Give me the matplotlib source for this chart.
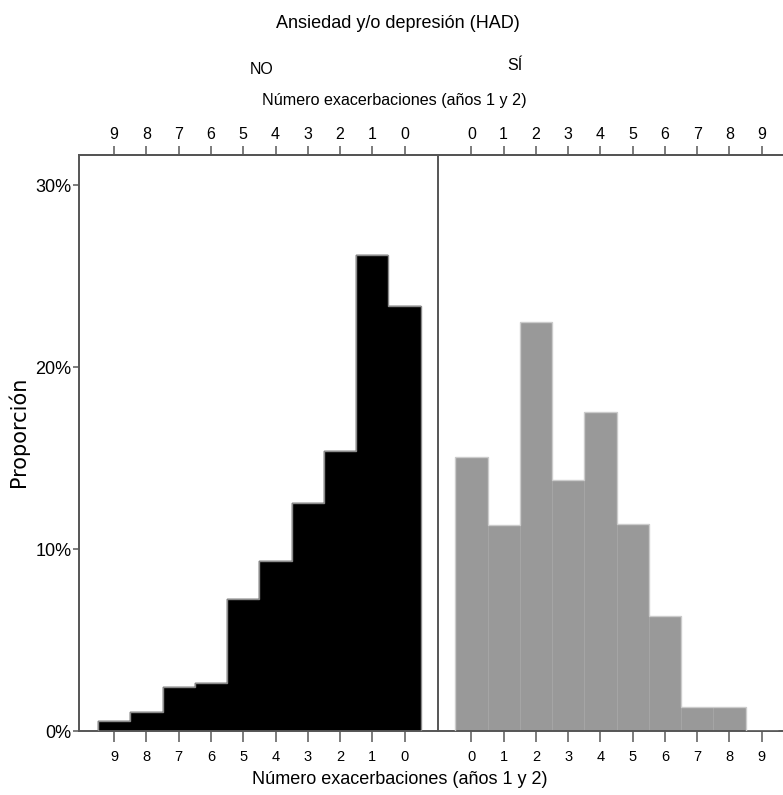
import matplotlib
matplotlib.use("Agg")
import matplotlib.pyplot as plt
from matplotlib import font_manager

# ---- data ----
counts = [0, 1, 2, 3, 4, 5, 6, 7, 8, 9]
no_pct = [23.37, 26.16, 15.36, 12.55, 9.34, 7.25, 2.66, 2.44, 1.05, 0.56]
si_pct = [15.08, 11.30, 22.50, 13.80, 17.54, 11.35, 6.34, 1.33, 1.33, 0.0]
y_ticks = [0, 10, 20, 30]
y_ticklabels = ["0%", "10%", "20%", "30%"]
title = "Ansiedad y/o depresión (HAD)"
group_labels = ["NO", "SÍ"]
xlabel = "Número exacerbaciones (años 1 y 2)"
ylabel = "Proporción"

names = {f.name for f in font_manager.fontManager.ttflist}
narrow = [f for f in ["Liberation Sans Narrow", "Liberation Sans", "DejaVu Sans"] if f in names]
plt.rcParams['font.family'] = narrow

W, H = 783, 795
fig = plt.figure(figsize=(W / 100, H / 100), dpi=100)

def fx(px):
    return px / W

def fy(py):
    return 1 - py / H

top_px, bot_px = 155, 731
left_px, mid_px, right_px = 79, 437.5, 783

axL = fig.add_axes([fx(left_px), fy(bot_px), fx(mid_px - left_px), (bot_px - top_px) / H])
axR = fig.add_axes([fx(mid_px), fy(bot_px), fx(right_px - mid_px), (bot_px - top_px) / H])

spine_col = "#555555"
tick_col = "#666666"

edges = [c - 0.5 for c in counts] + [counts[-1] + 0.5]

axL.bar(counts, no_pct, width=1.0, color="black", edgecolor="black", linewidth=0.3, zorder=2)
axL.stairs(no_pct, edges, color="#8a8a8a", linewidth=1.0, zorder=3)
axR.bar(counts, si_pct, width=1.0, color="#999999", edgecolor="#a6a6a6", linewidth=0.6, zorder=2)
axR.stairs(si_pct, edges, color="#cccccc", linewidth=1.0, zorder=3)

axL.set_xlim(10.09, -1.02)
axR.set_xlim(-1.05, 9.66)
for ax in (axL, axR):
    ax.set_ylim(0, 31.65)
    ax.set_xticks(counts)
    ax.set_xticklabels([str(c) for c in counts])
    ax.tick_params(axis='x', which='major', top=False, bottom=True, direction='out',
                   length=8, width=1.2, color=tick_col, labelsize=10.5, pad=5.5)
    for s in ax.spines.values():
        s.set_color(spine_col)
        s.set_linewidth(1.4)
    ax.set_facecolor("none")
    sec = ax.secondary_xaxis('top')
    sec.set_xticks(counts)
    sec.set_xticklabels([str(c) for c in counts])
    sec.tick_params(axis='x', direction='out', length=6.5, width=1.2, color=tick_col,
                    labelsize=11.5, pad=2.5)
    sec.spines['top'].set_color(spine_col)
    sec.spines['top'].set_linewidth(1.4)

axL.spines['right'].set_visible(True)
axR.spines['left'].set_visible(False)
axR.spines['right'].set_visible(False)

axL.set_yticks(y_ticks)
axL.set_yticklabels(y_ticklabels)
axL.tick_params(axis='y', direction='out', length=4.5, width=1.2, color=tick_col, labelsize=13, pad=1)
axR.set_yticks([])

fig.text(fx(398), fy(23), title, ha='center', va='center', fontsize=13)
fig.text(fx(262), fy(70), group_labels[0], ha='center', va='center', fontsize=11.5)
fig.text(fx(515), fy(66), group_labels[1], ha='center', va='center', fontsize=11.5)
fig.text(fx(394), fy(101), xlabel, ha='center', va='center', fontsize=11.6)
fig.text(fx(400), fy(779), xlabel, ha='center', va='center', fontsize=13)
fig.text(fx(18), fy(432), ylabel, ha='center', va='center', rotation=90, fontsize=15,
         family=["DejaVu Sans"])

fig.savefig("out.png", dpi=100)
